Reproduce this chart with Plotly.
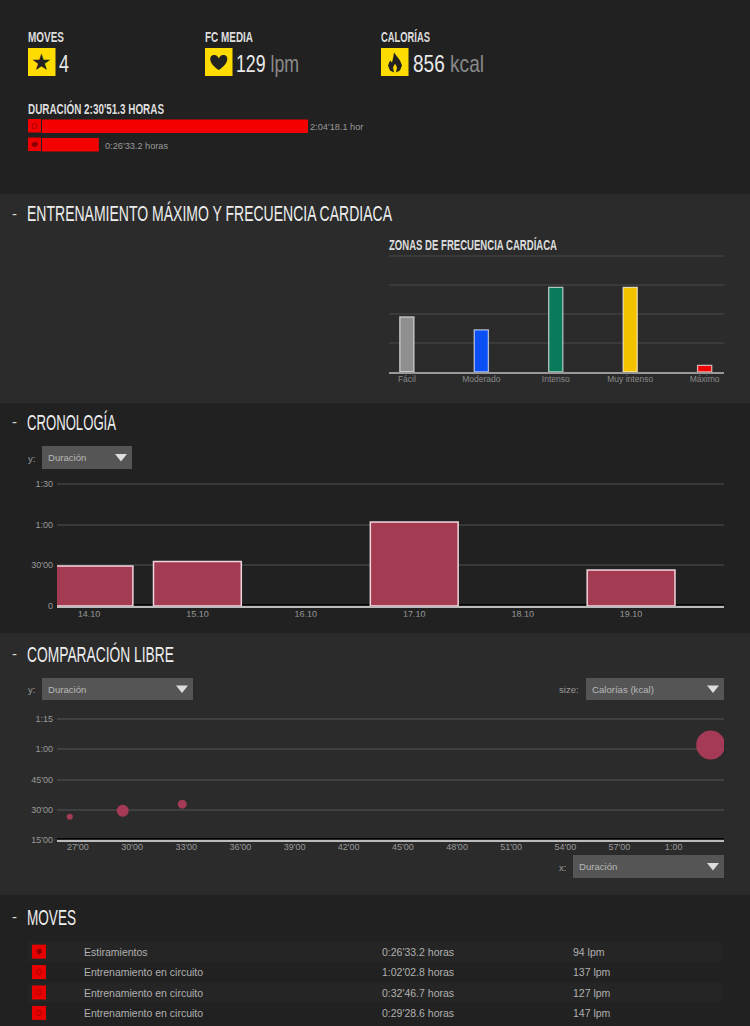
import json
import plotly.graph_objects as go

# ---------- data ----------
zone_names = ["Fácil", "Moderado", "Intenso", "Muy intenso", "Máximo"]
zone_minutes = [30.4, 23.2, 46.7, 46.7, 3.6]
zone_colors = ["#8f8f8f", "#0a50f5", "#0a7a5c", "#f4c300", "#f00000"]

activity_names = ["Entrenamiento", "Estiramientos"]
activity_minutes = [124.3, 26.55]
activity_labels = ["2:04'18.1 hor", "0:26'33.2 horas"]

days = ["14.10", "15.10", "16.10", "17.10", "18.10", "19.10"]
day_minutes = [29.48, 32.78, 0, 62.05, 0, 26.55]
dur_y_vals = [0, 30, 60, 90]
dur_y_text = ["0", "30'00", "1:00", "1:30"]

move_minutes = [26.55, 29.48, 32.78, 62.05]
move_kcal = [28, 112, 63, 653]
cmp_x_vals = [27, 30, 33, 36, 39, 42, 45, 48, 51, 54, 57, 60]
cmp_x_text = ["27'00", "30'00", "33'00", "36'00", "39'00", "42'00", "45'00", "48'00", "51'00", "54'00", "57'00", "1:00"]
cmp_y_vals = [15, 30, 45, 60, 75]
cmp_y_text = ["15'00", "30'00", "45'00", "1:00", "1:15"]

move_rows = [
    ("Estiramientos", "0:26'33.2 horas", "94 lpm"),
    ("Entrenamiento en circuito", "1:02'02.8 horas", "137 lpm"),
    ("Entrenamiento en circuito", "0:32'46.7 horas", "127 lpm"),
    ("Entrenamiento en circuito", "0:29'28.6 horas", "147 lpm"),
]

# ---------- helpers ----------
W, H = 750, 1026
DARK, LIGHT = "#212121", "#2b2b2b"
PLAIN = "Liberation Sans, sans-serif"
px = lambda x: x / W
py = lambda y: 1 - y / H
shapes, notes, fits = [], [], {}


def rect(x0, y0, x1, y1, fill, layer="below"):
    shapes.append(dict(type="rect", xref="paper", yref="paper", x0=px(x0), x1=px(x1),
                       y0=py(y1), y1=py(y0), fillcolor=fill, line_width=0, layer=layer))


def hline(x0, x1, y, color, width=1):
    shapes.append(dict(type="line", xref="paper", yref="paper", x0=px(x0), x1=px(x1),
                       y0=py(y), y1=py(y), line=dict(color=color, width=width), layer="below"))


def path(points, fill):
    d = "M" + " L".join(f"{px(a):.5f},{py(b):.5f}" for a, b in points) + " Z"
    shapes.append(dict(type="path", xref="paper", yref="paper", path=d, fillcolor=fill,
                       line_width=0, layer="above"))


def icon(cx, cy, cmds, fill):
    out = []
    for c, pts in cmds:
        out.append(c + " ".join(f"{px(cx + a):.5f},{py(cy + b):.5f}" for a, b in pts))
    shapes.append(dict(type="path", xref="paper", yref="paper", path=" ".join(out) + " Z", fillcolor=fill,
                       line_width=0, layer="above"))


def text(x, y, s, size, color="#dddddd", font=PLAIN, anchor="left", fit=None, weight="normal"):
    if fit:
        fits[len(notes)] = fit
    notes.append(dict(xref="paper", yref="paper", x=px(x - 1 if anchor == "left" else x), y=py(y), text=s,
                      showarrow=False, xanchor=anchor, yanchor="middle", borderpad=0,
                      font=dict(size=size, color=color, family=font, weight=weight)))


def dropdown(x0, y0, x1, y1, label):
    rect(x0, y0, x1, y1, "#555555", layer="above")
    text(x0 + 6, (y0 + y1) / 2, label, 9.6, "#b8b8b8")
    cx, cy = x1 - 11, (y0 + y1) / 2
    path([(cx - 6, cy - 3.5), (cx + 6, cy - 3.5), (cx, cy + 4)], "#dddddd")


# ---------- section backgrounds ----------
rect(0, 0, W, 194, DARK)
rect(0, 194, W, 403, LIGHT)
rect(0, 403, W, 633, DARK)
rect(0, 633, W, 895, LIGHT)
rect(0, 895, W, H, DARK)

for y, s, w in [(214, "ENTRENAMIENTO MÁXIMO Y FRECUENCIA CARDIACA", 365), (423, "CRONOLOGÍA", 89),
                (654.5, "COMPARACIÓN LIBRE", 147), (917, "MOVES", 49)]:
    text(12, y - 1, "-", 15, "#dddddd")
    text(27, y, s, 22, "#eeeeee", fit=w)

# ---------- header KPIs ----------
YELLOW = "#ffdc00"
for x, label, w in [(28, "MOVES", 36), (205, "FC MEDIA", 48), (381, "CALORÍAS", 49)]:
    text(x, 37, label, 14, "#dddddd", fit=w, weight="bold")
    rect(x, 48, x + 27.5, 76, YELLOW, layer="above")
text(41.8, 62, "★", 23, "#222222", "DejaVu Sans", "center")
icon(218.8, 62, [("M", [(0, 8)]), ("C", [(-11, 1), (-10, -7), (-4.5, -7)]), ("C", [(-2, -7), (-0.5, -5), (0, -3.5)]),
                 ("C", [(0.5, -5), (2, -7), (4.5, -7)]), ("C", [(10, -7), (11, 1), (0, 8)])], "#222222")
path([(395 + a, 62.5 + b) for a, b in [(-1, -10), (2, -6), (5, -2), (7, 3), (5, 8), (1, 10), (2, 5), (0, 1),
                                       (-2, 5), (-1, 10), (-5, 8), (-7, 3), (-5, -2), (-3, 0), (-2, -4)]], "#222222")
text(59, 63.5, "4", 24, "#e8e8e8", fit=10)
text(236, 63.5, '129 <span style="fill:#8a8a8a">lpm</span>', 24, "#e8e8e8", fit=63)
text(413, 63.5, '856 <span style="fill:#8a8a8a">kcal</span>', 24, "#e8e8e8", fit=71)
text(28, 108.5, "DURACIÓN 2:30'51.3 HORAS", 14, "#dddddd", fit=136, weight="bold")

# activity bars
rect(28, 119, 41, 132.5, "#f00000", layer="above")
rect(28, 137.5, 41, 151, "#f00000", layer="above")
text(310, 127.5, activity_labels[0], 9.2, "#999999")
text(105, 146, activity_labels[1], 9.2, "#999999")
shapes.append(dict(type="circle", xref="paper", yref="paper", x0=px(32), x1=px(37), y0=py(128.5), y1=py(123.5),
                   line=dict(color="#a80000", width=1), layer="above"))
path([(31.5, 143), (37, 141.5), (38, 145), (35, 147.5), (32, 146)], "#8a0000")

# ---------- table ----------
for i, (name, dur, bpm) in enumerate(move_rows):
    y = 951.7 + i * 20.4
    if i % 2 == 0:
        rect(28, y - 10, 722, y + 10, "#252525")
    rect(32, y - 7, 46, y + 7, "#e80000")
    text(84, y, name, 10.5, "#b0b0b0")
    text(382, y, dur, 10.5, "#b0b0b0")
    text(573, y, bpm, 10.5, "#b0b0b0")
    if i == 0:
        path([(36.5, y - 2), (41, y - 3.5), (42, y + 1), (39, y + 3), (37, y + 1)], "#8a0000")
    else:
        shapes.append(dict(type="circle", xref="paper", yref="paper", x0=px(36.5), x1=px(41.5),
                           y0=py(y + 2.5), y1=py(y - 2.5), line=dict(color="#a80000", width=1), layer="above"))

# ---------- dropdowns ----------
text(28, 458, "y:", 9.6, "#999999")
dropdown(42, 446, 132, 469, "Duración")
text(28, 689, "y:", 9.6, "#999999")
dropdown(42, 678, 193, 700, "Duración")
text(559, 689, "size:", 9.6, "#999999")
dropdown(586, 678, 724, 700, "Calorías (kcal)")
text(559, 867, "x:", 9.6, "#999999")
dropdown(573, 855, 724, 878, "Duración")

text(389, 245, "ZONAS DE FRECUENCIA CARDÍACA", 14, "#dddddd", fit=168, weight="bold")

# mask for the clipped date labels of the timeline
rect(0, 616.8, W, 633, DARK, layer="above")
hline(57, 724, 604.6, "#000000", 1)
hline(57, 724, 838.6, "#000000", 1)

# ---------- traces ----------
fig = go.Figure()

fig.add_bar(x=activity_minutes, y=activity_names, orientation="h", width=0.73,
            marker=dict(color="#f50000", line_width=0), xaxis="x", yaxis="y", hoverinfo="skip")
fig.add_bar(x=zone_names, y=zone_minutes, width=0.19,
            marker=dict(color=zone_colors, line=dict(color="rgba(255,255,255,0.65)", width=1.3)),
            xaxis="x2", yaxis="y2", hoverinfo="skip")
fig.add_bar(x=days, y=day_minutes, width=0.81,
            marker=dict(color="#a33c52", line=dict(color="rgba(255,232,238,0.9)",
                                                   width=[1.5 if v > 0 else 0 for v in day_minutes])),
            xaxis="x3", yaxis="y3", hoverinfo="skip")
fig.add_scatter(x=move_minutes, y=move_minutes, mode="markers",
                marker=dict(size=move_kcal, sizemode="area", sizeref=1.553, color="#b03c5a",
                            opacity=0.92, line_width=0),
                xaxis="x4", yaxis="y4", hoverinfo="skip")

hidden = dict(visible=False, fixedrange=True)
tick = dict(color="#9a9a9a", size=9, family=PLAIN)


def dom(a, b, size):
    return [a / size, b / size]


def ydom(top, bottom):
    return [1 - bottom / H, 1 - top / H]


fig.update_layout(
    width=W, height=H, autosize=False, margin=dict(l=0, r=0, t=0, b=0, pad=0, autoexpand=False),
    paper_bgcolor=DARK, plot_bgcolor="rgba(0,0,0,0)", showlegend=False, shapes=shapes, annotations=notes,
    xaxis=dict(hidden, domain=dom(42, 308, W), range=[0, 124.3]),
    yaxis=dict(hidden, domain=ydom(117, 154), range=[1.5, -0.5], type="category", anchor="x"),
    xaxis2=dict(domain=dom(389, 724, W), range=[-0.24, 4.26], type="category", anchor="y2", showgrid=False,
                showline=True, linecolor="#999999", linewidth=2, ticks="", ticklabelstandoff=-2,
                tickfont=dict(tick, size=8.5, color="#8a8a8a"), fixedrange=True),
    yaxis2=dict(domain=ydom(254, 372), range=[0, 65.1], tickvals=[0, 16, 32, 48, 64], anchor="x2", gridcolor="#3a3a3a",
                gridwidth=1.5, showticklabels=False, ticks="", zeroline=False, fixedrange=True),
    xaxis3=dict(domain=dom(57, 724, W), range=[-0.295, 5.857], type="category", anchor="y3", showgrid=False,
                showline=True, linecolor="#bbbbbb", linewidth=2, ticks="", ticklabelstandoff=-2, tickfont=tick,
                fixedrange=True),
    yaxis3=dict(domain=ydom(482, 606), range=[0, 91.475], tickvals=dur_y_vals, ticktext=dur_y_text, anchor="x3",
                gridcolor="#383838", gridwidth=1.5, ticks="", ticklabelstandoff=3, tickfont=tick, zeroline=False,
                fixedrange=True),
    xaxis4=dict(domain=dom(57, 724, W), range=[25.84, 62.79], tickvals=cmp_x_vals, ticktext=cmp_x_text, anchor="y4",
                showgrid=False, showline=True, linecolor="#bbbbbb", linewidth=2, ticks="", ticklabelstandoff=-3,
                tickfont=tick, zeroline=False, fixedrange=True),
    yaxis4=dict(domain=ydom(717, 840), range=[15, 75.99], tickvals=cmp_y_vals, ticktext=cmp_y_text, anchor="x4",
                gridcolor="#404040", gridwidth=1.5, ticks="", ticklabelstandoff=3, tickfont=tick, zeroline=False,
                fixedrange=True),
)

# the page font is a condensed display face: squeeze those texts to the widths they have in the reference
squeeze = """
document.body.style.margin='0';document.body.style.overflow='hidden';
var fits = %s;
var els = document.querySelectorAll('.annotation-text');
Object.keys(fits).forEach(function(k){
  var el = els[+k]; if(!el) return;
  var bb = el.getBBox();
  el.setAttribute('text-anchor','start');
  el.setAttribute('x', bb.x);
  el.setAttribute('textLength', fits[k]);
  el.setAttribute('lengthAdjust','spacingAndGlyphs');
});
""" % json.dumps(fits)

fig.write_html("out.html", config={"displayModeBar": False}, post_script=squeeze)
